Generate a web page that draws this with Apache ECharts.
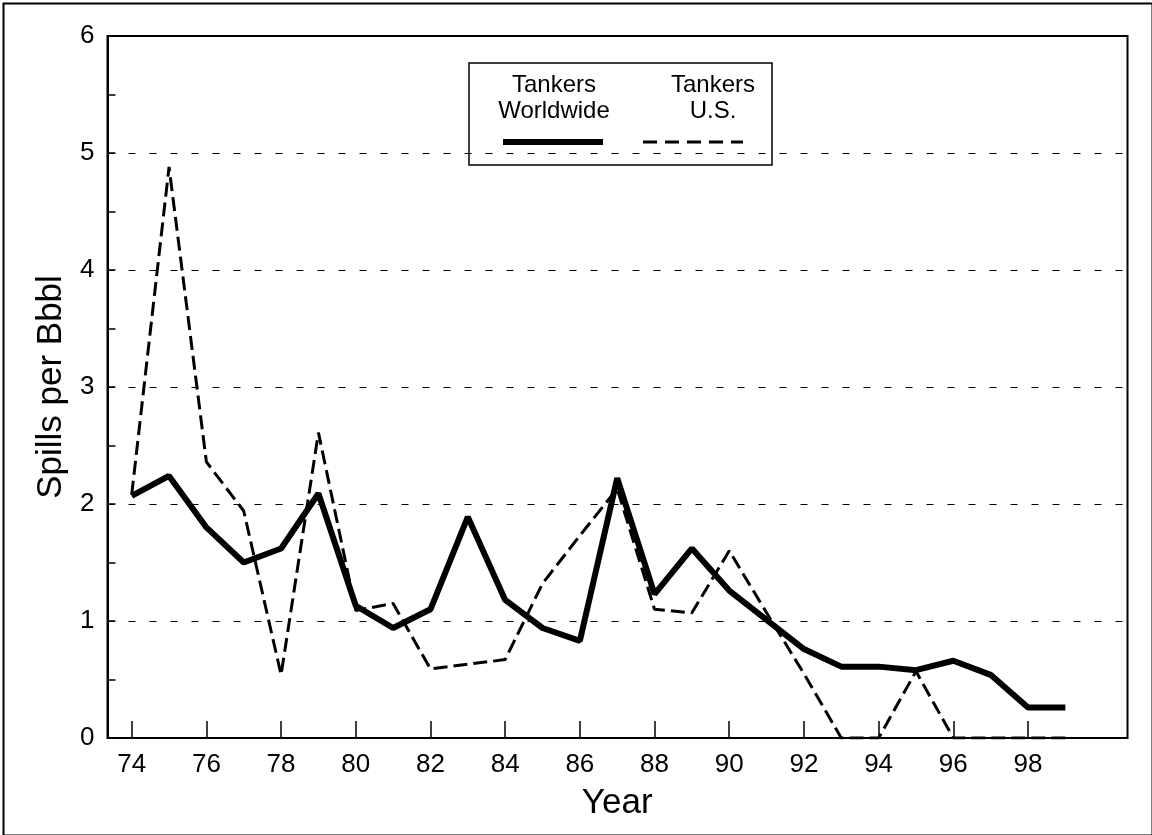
<!DOCTYPE html>
<html>
<head>
<meta charset="utf-8">
<script src="https://cdn.jsdelivr.net/npm/echarts@6/dist/echarts.min.js"></script>
<style>
html,body{margin:0;padding:0;background:#fff;}
#chart{width:1152px;height:835px;}
</style>
</head>
<body>
<div id="chart"></div>
<script>
// years 1974..1999, shown as two-digit years
var years = [74,75,76,77,78,79,80,81,82,83,84,85,86,87,88,89,90,91,92,93,94,95,96,97,98,99];
var worldwide = [2.07,2.24,1.80,1.50,1.62,2.09,1.13,0.94,1.10,1.89,1.18,0.94,0.83,2.22,1.23,1.62,1.26,1.01,0.76,0.61,0.61,0.58,0.66,0.54,0.26,0.26];
var usTankers = [2.08,4.88,2.36,1.94,0.54,2.61,1.09,1.15,0.59,0.63,0.67,1.32,1.73,2.13,1.10,1.07,1.60,1.07,0.55,0,0,0.57,0,0,0,0];
var legendNames = [['Tankers','Worldwide'],['Tankers','U.S.']];

var font = 'Liberation Sans, Arial, sans-serif';

function pairs(vals){
    var out = [];
    for(var i=0;i<years.length;i++){
        out.push([years[i], vals[i]]);
    }
    return out;
}

var chart = echarts.init(document.getElementById('chart'));
var option = {
    backgroundColor: '#fff',
    animation: false,
    grid: [
        // outer frame, holds the y axis and gridlines
        {left:107.5, right:24.5, top:36, bottom:97, show:true, borderColor:'#000', borderWidth:2, backgroundColor:'transparent'},
        // inner box where the year ticks sit
        {left:131.7, right:49.3, top:36, bottom:97}
    ],
    xAxis: [
        {gridIndex:0, type:'value', min:0, max:1, show:false},
        {
            gridIndex:1, type:'value', min:74, max:100, interval:2,
            axisLine:{show:false},
            axisTick:{show:true, inside:true, length:17, lineStyle:{color:'#000', width:1.5}},
            axisLabel:{color:'#000', fontSize:26, fontFamily:font, margin:14, showMaxLabel:false,
                formatter:function(v){ return v >= 100 ? '' : String(v); }},
            splitLine:{show:false},
            name:'Year', nameLocation:'middle', nameGap:48,
            nameTextStyle:{color:'#000', fontSize:35, fontFamily:font}
        }
    ],
    yAxis: [
        {
            gridIndex:0, type:'value', min:0, max:6, interval:1,
            axisLine:{show:true, lineStyle:{color:'#000', width:2}},
            axisTick:{show:true, inside:true, length:8, lineStyle:{color:'#000', width:1.5}},
            minorTick:{show:true, splitNumber:2, length:8, lineStyle:{color:'#000', width:1.5}},
            axisLabel:{color:'#000', fontSize:26, fontFamily:font, margin:13, padding:[8,0,0,0]},
            splitLine:{show:true, lineStyle:{color:'#000', width:1, type:[7,14]}},
            name:'Spills per Bbbl', nameLocation:'middle', nameGap:39,
            nameTextStyle:{color:'#000', fontSize:35, fontFamily:font}
        },
        {gridIndex:1, type:'value', min:0, max:6, show:false}
    ],
    series: [
        {
            name:'Tankers Worldwide', type:'line', xAxisIndex:1, yAxisIndex:1,
            data:pairs(worldwide), symbol:'none', z:3,
            lineStyle:{color:'#000', width:6}
        },
        {
            name:'Tankers U.S.', type:'line', xAxisIndex:1, yAxisIndex:1,
            data:pairs(usTankers), symbol:'none', z:4,
            lineStyle:{color:'#000', width:3, type:[14,6]}
        }
    ],
    graphic: [
        {type:'rect', left:1, top:1, shape:{width:1149, height:832}, style:{fill:'none', stroke:'#000', lineWidth:2}, silent:true},
        {type:'rect', shape:{x:469, y:63, width:303, height:102}, style:{fill:'none', stroke:'#000', lineWidth:1.5}, z:10},
        {type:'text', x:554, y:72, style:{text:legendNames[0].join('\n'), fill:'#000', font:'24px ' + font, align:'center', verticalAlign:'top', lineHeight:26}, z:10},
        {type:'text', x:713, y:72, style:{text:legendNames[1].join('\n'), fill:'#000', font:'24px ' + font, align:'center', verticalAlign:'top', lineHeight:26}, z:10},
        {type:'line', shape:{x1:503, y1:142, x2:603, y2:142}, style:{stroke:'#000', lineWidth:6}, z:10},
        {type:'line', shape:{x1:643, y1:142, x2:743, y2:142}, style:{stroke:'#000', lineWidth:3, lineDash:[14,8]}, z:10}
    ]
};
chart.setOption(option);
</script>
</body>
</html>
